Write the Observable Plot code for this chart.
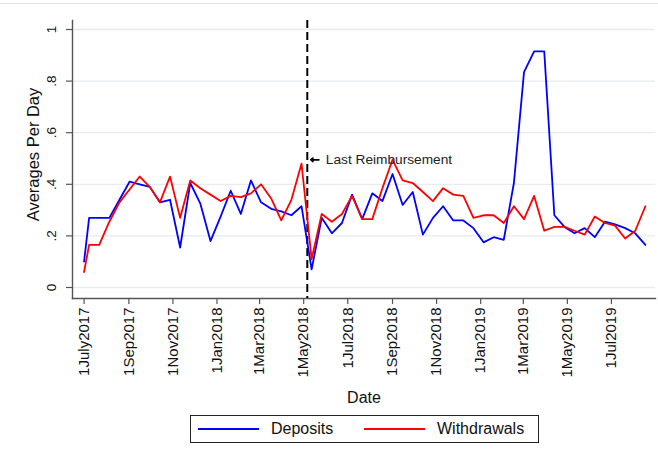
<!DOCTYPE html>
<html>
<head>
<meta charset="utf-8">
<script src="https://cdn.jsdelivr.net/npm/d3@7"></script>
<script src="https://cdn.jsdelivr.net/npm/@observablehq/plot@0.6"></script>
<style>
  html, body { margin: 0; padding: 0; background: #fff; }
  #wrap { position: relative; width: 658px; height: 461px; background: #fff; overflow: hidden;
          font-family: "Liberation Sans", Arial, sans-serif; }
  #topline { position: absolute; left: 0; top: 3px; width: 658px; height: 1px; background: #e4e4e4; }
  #chart { position: absolute; left: 0; top: 0; }
  #legend { position: absolute; left: 190px; top: 415px; width: 347px; height: 26px;
            border: 1px solid #222; background: #fff; }
  .sw { position: absolute; top: 12px; height: 2px; width: 61px; }
  .lab { position: absolute; top: 4px; font-size: 16px; color: #111; line-height: 18px; white-space: nowrap; }
</style>
</head>
<body>
<div id="wrap">
  <div id="topline"></div>
  <div id="chart"></div>
  <div id="legend"></div>
</div>
<script>
// Biweekly averages per day, July 2017 - August 2019
const dates = [
  "2017-07-01", "2017-07-08", "2017-07-22", "2017-08-05", "2017-08-19", "2017-09-02",
  "2017-09-16", "2017-09-30", "2017-10-14", "2017-10-28", "2017-11-11", "2017-11-25",
  "2017-12-09", "2017-12-23", "2018-01-06", "2018-01-20", "2018-02-03", "2018-02-17",
  "2018-03-03", "2018-03-17", "2018-03-31", "2018-04-14", "2018-04-28", "2018-05-12",
  "2018-05-26", "2018-06-09", "2018-06-23", "2018-07-07", "2018-07-21", "2018-08-04",
  "2018-08-18", "2018-09-01", "2018-09-15", "2018-09-29", "2018-10-13", "2018-10-27",
  "2018-11-10", "2018-11-24", "2018-12-08", "2018-12-22", "2019-01-05", "2019-01-19",
  "2019-02-02", "2019-02-16", "2019-03-02", "2019-03-16", "2019-03-30", "2019-04-13",
  "2019-04-27", "2019-05-11", "2019-05-25", "2019-06-08", "2019-06-22", "2019-07-06",
  "2019-07-20", "2019-08-03", "2019-08-17"
];

const deposits = [
  0.10, 0.27, 0.27, 0.27, 0.34, 0.41, 0.40, 0.39, 0.33, 0.34, 0.155, 0.405,
  0.325, 0.18, 0.275, 0.375, 0.285, 0.415, 0.33, 0.305, 0.295, 0.28, 0.315, 0.07,
  0.27, 0.21, 0.25, 0.36, 0.265, 0.365, 0.335, 0.44, 0.32, 0.37, 0.205, 0.27,
  0.315, 0.26, 0.26, 0.23, 0.175, 0.195, 0.185, 0.405, 0.835, 0.915, 0.915, 0.28,
  0.235, 0.21, 0.23, 0.195, 0.255, 0.245, 0.23, 0.21, 0.165
];

const withdrawals = [
  0.06, 0.165, 0.165, 0.255, 0.33, 0.38, 0.43, 0.39, 0.33, 0.43, 0.27, 0.415,
  0.385, 0.36, 0.335, 0.355, 0.35, 0.365, 0.40, 0.345, 0.26, 0.34, 0.48, 0.11,
  0.285, 0.255, 0.285, 0.355, 0.265, 0.265, 0.385, 0.495, 0.415, 0.405, 0.37, 0.335,
  0.385, 0.36, 0.355, 0.27, 0.28, 0.28, 0.25, 0.315, 0.265, 0.355, 0.22, 0.235,
  0.235, 0.22, 0.205, 0.275, 0.25, 0.24, 0.19, 0.22, 0.315
];

const tickDates = [
  "2017-07-01", "2017-09-01", "2017-11-01", "2018-01-01", "2018-03-01", "2018-05-01",
  "2018-07-01", "2018-09-01", "2018-11-01", "2019-01-01", "2019-03-01", "2019-05-01",
  "2019-07-01"
];
const tickLabels = [
  "1July2017", "1Sep2017", "1Nov2017", "1Jan2018", "1Mar2018", "1May2018",
  "1Jul2018", "1Sep2018", "1Nov2018", "1Jan2019", "1Mar2019", "1May2019",
  "1Jul2019"
];

const yTicks = [0, 0.2, 0.4, 0.6, 0.8, 1];
const yLabels = ["0", ".2", ".4", ".6", ".8", "1"];

const seriesNames = ["Deposits", "Withdrawals"];
const seriesColors = ["#0000ff", "#ff0000"];

// Last reimbursement marker and its label
const reimbursementDate = "2018-05-06";
const reimbursementLabel = "Last Reimbursement";
const labelLevel = 0.495;
const arrowFrom = "2018-05-22";
const arrowTo = "2018-05-11";

const xDomain = ["2017-06-15", "2019-08-31"];
const yTitle = "Averages Per Day";
const xTitle = "Date";

const toDate = s => new Date(s + "T00:00:00Z");
const rows = dates.map((d, i) => ({date: toDate(d), deposits: deposits[i], withdrawals: withdrawals[i]}));
const ticks = tickDates.map(toDate);
const axisColor = "#555";

const chart = Plot.plot({
  width: 658,
  height: 410,
  marginTop: 20,
  marginBottom: 112,
  marginLeft: 72,
  marginRight: 3,
  style: {fontFamily: "'Liberation Sans', Arial, sans-serif", background: "transparent", overflow: "visible", color: "#111"},
  x: {type: "utc", domain: xDomain.map(toDate), axis: null},
  y: {domain: [0, 1], insetTop: 9, insetBottom: 11, axis: null},
  marks: [
    Plot.gridY(yTicks, {stroke: "#e5edf0", strokeOpacity: 1, strokeWidth: 1.3}),
    Plot.frame({anchor: "left", stroke: axisColor, strokeWidth: 1.4}),
    Plot.frame({anchor: "bottom", stroke: axisColor, strokeWidth: 1.4}),
    Plot.axisX({ticks, tickSize: 6, tickFormat: () => "", stroke: axisColor, strokeWidth: 1.2}),
    Plot.axisY({ticks: yTicks, tickSize: 6, tickFormat: () => "", stroke: axisColor, strokeWidth: 1.2}),
    Plot.text(ticks, {
      x: d => d, text: (d, i) => tickLabels[i], frameAnchor: "bottom", dy: 9,
      rotate: -90, textAnchor: "end", lineAnchor: "middle", fontSize: 15, fill: "#111"
    }),
    Plot.text(yTicks, {
      y: d => d, text: (d, i) => yLabels[i], frameAnchor: "left", dx: -17,
      rotate: -90, textAnchor: "middle", lineAnchor: "bottom", fontSize: 13.5, fill: "#111"
    }),
    Plot.text([yTitle], {
      text: d => d, frameAnchor: "left", dx: -39, dy: -5, rotate: -90,
      textAnchor: "middle", lineAnchor: "middle", fontSize: 16.5, fill: "#111"
    }),
    Plot.text([xTitle], {
      text: d => d, frameAnchor: "bottom", dy: 99, lineAnchor: "middle", fontSize: 16, fill: "#111"
    }),
    Plot.ruleX([toDate(reimbursementDate)], {stroke: "#000", strokeWidth: 2, strokeDasharray: "8,4"}),
    Plot.line(rows, {x: "date", y: "deposits", stroke: seriesColors[0], strokeWidth: 1.8}),
    Plot.line(rows, {x: "date", y: "withdrawals", stroke: seriesColors[1], strokeWidth: 1.8}),
    Plot.arrow([{from: toDate(arrowFrom), to: toDate(arrowTo), y: labelLevel}], {
      x1: "from", x2: "to", y1: "y", y2: "y", stroke: "#000", strokeWidth: 1.8,
      headLength: 6, headAngle: 80
    }),
    Plot.text([{x: toDate(arrowFrom), y: labelLevel, label: reimbursementLabel}], {
      x: "x", y: "y", text: "label", textAnchor: "start", dx: 7, fontSize: 13.7, fill: "#222"
    })
  ]
});
document.getElementById("chart").appendChild(chart);

// Legend box beneath the chart
const legend = document.getElementById("legend");
const swatchLeft = [7, 173];
const labelLeft = [80, 246];
seriesNames.forEach((name, i) => {
  const sw = document.createElement("div");
  sw.className = "sw";
  sw.style.left = swatchLeft[i] + "px";
  sw.style.background = seriesColors[i];
  legend.appendChild(sw);
  const lb = document.createElement("div");
  lb.className = "lab";
  lb.style.left = labelLeft[i] + "px";
  lb.textContent = name;
  legend.appendChild(lb);
});
</script>
</body>
</html>
